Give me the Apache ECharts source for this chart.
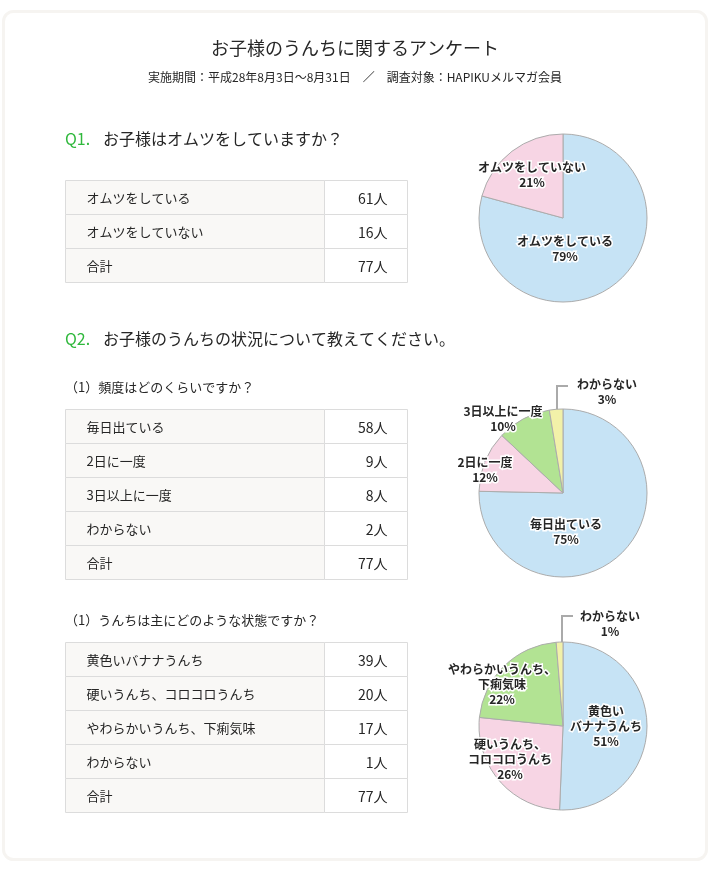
<!DOCTYPE html>
<html><head><meta charset="utf-8">
<script src="https://cdn.jsdelivr.net/npm/echarts@6/dist/echarts.min.js"></script>
<style>html,body{margin:0;padding:0;background:#fff}#c{width:710px;height:870px}</style>
</head><body><div id="c"></div>
<script>
// ---- data ----
const titleText = 'お子様のうんちに関するアンケート';
const subtitleText = '実施期間：平成28年8月3日〜8月31日　／　調査対象：HAPIKUメルマガ会員';
const q1Heading = 'お子様はオムツをしていますか？';
const q1Categories = ['オムツをしている', 'オムツをしていない'];
const q1Values = [61, 16];
const q1PieLabels = ['オムツをしている', 'オムツをしていない'];

const q2Heading = 'お子様のうんちの状況について教えてください。';
const q2aHeading = '（1）頻度はどのくらいですか？';
const q2aCategories = ['毎日出ている', '2日に一度', '3日以上に一度', 'わからない'];
const q2aValues = [58, 9, 8, 2];
const q2aPieLabels = ['毎日出ている', '2日に一度', '3日以上に一度', 'わからない'];

const q2bHeading = '（1）うんちは主にどのような状態ですか？';
const q2bCategories = ['黄色いバナナうんち', '硬いうんち、コロコロうんち', 'やわらかいうんち、下痢気味', 'わからない'];
const q2bValues = [39, 20, 17, 1];
const q2bPieLabels = ['黄色い\nバナナうんち', '硬いうんち、\nコロコロうんち', 'やわらかいうんち、\n下痢気味', 'わからない'];

const totalLabel = '合計';
const unit = '人';

// ---- style ----
const FONT = '"Noto Sans CJK JP", "Noto Sans", sans-serif';
const sliceColors = ['#c6e3f5', '#f7d5e4', '#b2e393', '#f2f1a9'];
const TEXT = '#262626';
const GREEN = '#2fb83c';
const ROW_H = 34, COL1 = 259, COL2 = 83, TX = 65.5;

function buildTable(y, cats, vals) {
  const rows = cats.map((c, i) => [c, vals[i]]);
  rows.push([totalLabel, vals.reduce((a, b) => a + b, 0)]);
  const els = [];
  rows.forEach((r, i) => {
    const ry = y + i * ROW_H;
    els.push({type: 'rect', shape: {x: TX, y: ry, width: COL1, height: ROW_H}, style: {fill: '#f9f8f6', stroke: '#dcdcdc', lineWidth: 1}});
    els.push({type: 'rect', shape: {x: TX + COL1, y: ry, width: COL2, height: ROW_H}, style: {fill: '#ffffff', stroke: '#dcdcdc', lineWidth: 1}});
    els.push({type: 'text', x: TX + 21, y: ry + ROW_H / 2 + 1, style: {text: r[0], fill: TEXT, fontSize: 13, fontFamily: FONT, verticalAlign: 'middle'}});
    els.push({type: 'text', x: TX + COL1 + COL2 - 20, y: ry + ROW_H / 2 + 1, style: {text: r[1] + unit, fill: TEXT, fontSize: 14, fontFamily: FONT, align: 'right', verticalAlign: 'middle'}});
  });
  return els;
}

function qHeading(y, label, text) {
  return [
    {type: 'text', x: 65, y: y, style: {text: label, fill: GREEN, fontSize: 16, fontFamily: FONT, verticalAlign: 'middle'}},
    {type: 'text', x: 103, y: y, style: {text: text, fill: TEXT, fontSize: 16, fontFamily: FONT, verticalAlign: 'middle'}}
  ];
}

// label placements (style config, px)
const layouts = {
  q1: [{x: 565, y: 249}, {x: 532, y: 175}],
  q2a: [{x: 566, y: 532}, {x: 485, y: 470}, {x: 503, y: 419}, {x: 607, y: 392, line: [[557, 414], [557, 386], [568, 386]]}],
  q2b: [{x: 606, y: 726}, {x: 510, y: 759}, {x: 502, y: 684}, {x: 610, y: 624, line: [[562, 646], [562, 616], [573, 616]]}]
};

function pieSeries(key, center, cats, vals, labels) {
  const lay = layouts[key];
  return {
    type: 'pie',
    center: center,
    radius: 84,
    startAngle: 90,
    clockwise: true,
    silent: true,
    animation: false,
    avoidLabelOverlap: false,
    percentPrecision: 0,
    itemStyle: {borderColor: '#acacac', borderWidth: 1},
    label: {
      show: true, position: 'inside',
      formatter: p => labels[p.dataIndex] + '\n' + p.percent + '%',
      color: TEXT, fontSize: 12, fontWeight: 'bold', fontFamily: FONT,
      lineHeight: 15, textBorderColor: '#ffffff', textBorderWidth: 3, align: 'center'
    },
    labelLine: {show: false},
    data: cats.map((c, i) => {
      const d = {name: c, value: vals[i], itemStyle: {color: sliceColors[i]}};
      if (lay[i].line) {
        d.label = {position: 'outside'};
        d.labelLine = {show: true, lineStyle: {color: '#aaaaaa', width: 2}};
      }
      return d;
    }),
    labelLayout: p => {
      const l = lay[p.dataIndex];
      const r = {x: l.x, y: l.y, align: 'center', verticalAlign: 'middle'};
      if (l.line) r.labelLinePoints = l.line;
      return r;
    }
  };
}

const graphics = [
  {type: 'rect', shape: {x: 3.5, y: 11.5, width: 703, height: 848, r: 10}, style: {fill: '#ffffff', stroke: '#f6f4f1', lineWidth: 3}, z: -10},
  {type: 'text', x: 355, y: 48, style: {text: titleText, fill: TEXT, fontSize: 18, fontFamily: FONT, align: 'center', verticalAlign: 'middle'}},
  {type: 'text', x: 355, y: 77, style: {text: subtitleText, fill: TEXT, fontSize: 12, fontFamily: FONT, align: 'center', verticalAlign: 'middle'}},
  ...qHeading(139, 'Q1.', q1Heading),
  ...buildTable(180.5, q1Categories, q1Values),
  ...qHeading(339, 'Q2.', q2Heading),
  {type: 'text', x: 65, y: 387, style: {text: q2aHeading, fill: TEXT, fontSize: 13, fontFamily: FONT, verticalAlign: 'middle'}},
  ...buildTable(409.5, q2aCategories, q2aValues),
  {type: 'text', x: 65, y: 620, style: {text: q2bHeading, fill: TEXT, fontSize: 13, fontFamily: FONT, verticalAlign: 'middle'}},
  ...buildTable(642.5, q2bCategories, q2bValues)
];

const chart = echarts.init(document.getElementById('c'), null, {renderer: 'canvas'});
chart.setOption({
  animation: false,
  graphic: {elements: graphics},
  series: [
    pieSeries('q1', [563, 218], q1Categories, q1Values, q1PieLabels),
    pieSeries('q2a', [563, 493], q2aCategories, q2aValues, q2aPieLabels),
    pieSeries('q2b', [563, 726], q2bCategories, q2bValues, q2bPieLabels)
  ]
});
</script>
</body></html>
